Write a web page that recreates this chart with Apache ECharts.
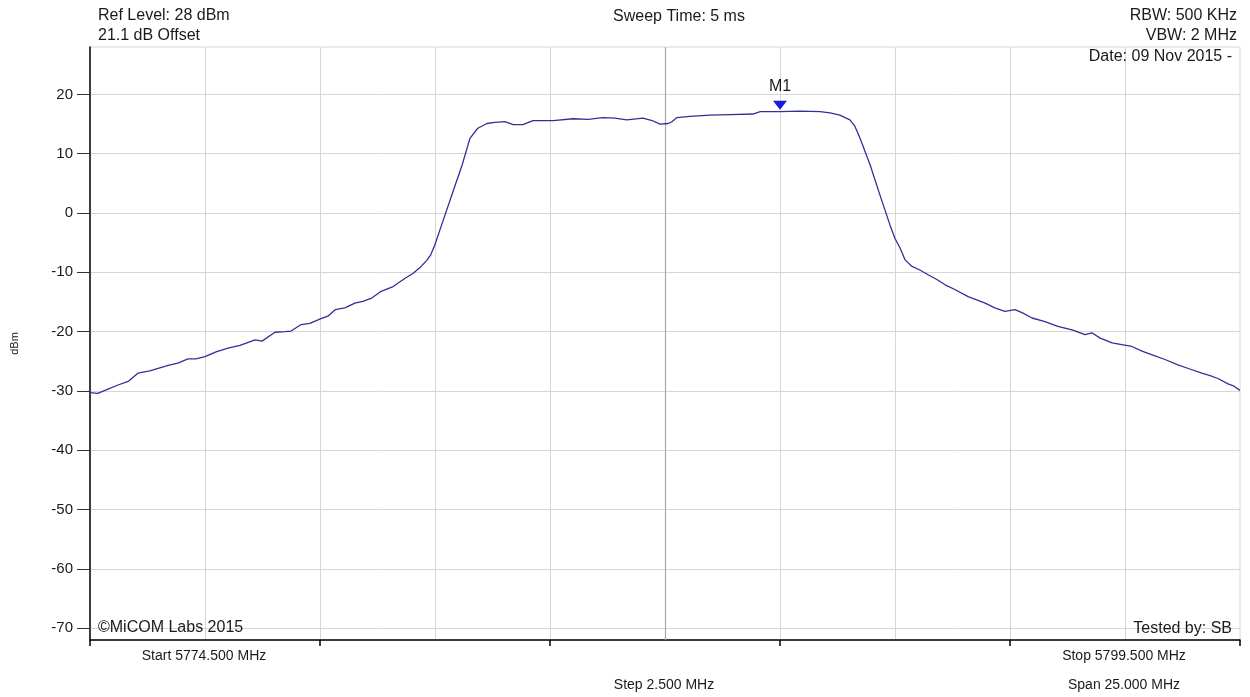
<!DOCTYPE html>
<html><head><meta charset="utf-8">
<script src="https://cdn.jsdelivr.net/npm/echarts@6/dist/echarts.min.js"></script>
<style>html,body{margin:0;padding:0;background:#fff}#c{width:1250px;height:697px}</style>
</head><body><div id="c"></div>
<script>
// Trace: frequency (MHz) and level (dBm)
const FREQ_MHZ = [
 5774.50,5774.67,5774.89,5775.11,5775.33,5775.54,5775.80,5776.20,5776.41,5776.63,
 5776.80,5777.00,5777.24,5777.50,5777.76,5778.09,5778.24,5778.52,5778.74,5778.87,
 5779.09,5779.28,5779.52,5779.67,5779.83,5780.04,5780.26,5780.43,5780.61,5780.83,
 5781.09,5781.35,5781.52,5781.70,5781.83,5781.91,5782.00,5782.17,5782.39,5782.59,
 5782.76,5782.93,5783.13,5783.30,5783.52,5783.70,5783.91,5784.13,5784.57,5785.00,
 5785.33,5785.65,5785.91,5786.17,5786.52,5786.72,5786.89,5787.07,5787.15,5787.26,
 5787.54,5787.98,5788.41,5788.91,5789.07,5789.50,5789.93,5790.37,5790.59,5790.80,
 5791.02,5791.13,5791.24,5791.46,5791.67,5791.89,5792.00,5792.11,5792.22,5792.37,
 5792.54,5792.72,5792.91,5793.09,5793.30,5793.59,5793.96,5794.17,5794.39,5794.61,
 5794.76,5794.98,5795.26,5795.54,5795.85,5796.13,5796.28,5796.46,5796.72,5796.93,
 5797.15,5797.37,5797.59,5797.87,5798.15,5798.41,5798.67,5798.85,5799.02,5799.24,
 5799.37,5799.50
];
const LEVEL_DBM = [
 -30.3,-30.4,-29.7,-29.0,-28.4,-27.0,-26.6,-25.7,-25.3,-24.6,
 -24.6,-24.2,-23.4,-22.8,-22.3,-21.4,-21.6,-20.1,-20.0,-19.9,
 -18.8,-18.6,-17.8,-17.4,-16.3,-16.0,-15.2,-14.9,-14.4,-13.2,
 -12.4,-11.0,-10.2,-9.0,-7.9,-7.0,-5.3,-1.4,3.6,8.1,
 12.6,14.3,15.1,15.3,15.4,14.9,14.9,15.6,15.6,15.9,
 15.8,16.1,16.0,15.7,16.0,15.6,15.0,15.1,15.4,16.1,
 16.3,16.5,16.6,16.7,17.1,17.1,17.2,17.1,16.9,16.5,
 15.7,14.6,12.6,8.1,3.1,-2.0,-4.3,-5.9,-7.9,-9.0,
 -9.6,-10.4,-11.2,-12.1,-12.9,-14.1,-15.2,-16.0,-16.6,-16.3,
 -16.8,-17.7,-18.3,-19.1,-19.7,-20.5,-20.2,-21.1,-21.9,-22.2,
 -22.5,-23.3,-23.9,-24.7,-25.6,-26.3,-27.0,-27.4,-27.9,-28.8,
 -29.2,-29.9
];
const Y_TICKS = [-70,-60,-50,-40,-30,-20,-10,0,10,20];
const X_GRID = [5777.0,5779.5,5782.0,5784.5,5787.0,5789.5,5792.0,5794.5,5797.0];
const X_TICKS = [5774.5,5779.5,5784.5,5789.5,5794.5,5799.5];
const X_CENTER = 5787.0;
const MARKER = {name:'M1', freq:5789.5, level:17.1};
const Y_MIN = -72, Y_MAX = 28, X_MIN = 5774.5, X_MAX = 5799.5;
const HEADER_LEFT = ['Ref Level: 28 dBm','21.1 dB Offset'];
const HEADER_CENTER = 'Sweep Time: 5 ms';
const HEADER_RIGHT = ['RBW: 500 KHz','VBW: 2 MHz','Date: 09 Nov 2015 -'];
const FOOT_LEFT = '\u00A9MiCOM Labs 2015';
const FOOT_RIGHT = 'Tested by: SB';
const X_INFO = ['Start 5774.500 MHz','Step 2.500 MHz','Stop 5799.500 MHz','Span 25.000 MHz'];

const FONT = '"Liberation Sans", Arial, sans-serif';
const TXT = '#1a1a1a';
function txt(text, x, y, align, size){
  return {type:'text', x:x, y:y, silent:true, z:10,
    style:{text:text, fill:TXT, font: size+'px '+FONT, align:align, textAlign:align,
      verticalAlign:'middle', textVerticalAlign:'middle'}};
}

const chart = echarts.init(document.getElementById('c'), null, {renderer:'canvas'});
chart.setOption({
  animation:false,
  backgroundColor:'#fff',
  grid:{left:90, right:10, top:47, bottom:57, show:true, borderColor:'#d6d6d6', borderWidth:1},
  xAxis:[{
    type:'value', min:X_MIN, max:X_MAX, position:'bottom',
    axisLine:{show:true, onZero:false, lineStyle:{color:'#000', width:1.5}},
    axisTick:{show:true, customValues:X_TICKS, length:6, lineStyle:{color:'#000', width:1.5}},
    axisLabel:{show:false}, splitLine:{show:false}
  },{
    type:'value', min:X_MIN, max:X_MAX, position:'top',
    axisLine:{show:false}, axisTick:{show:false, customValues:X_GRID},
    axisLabel:{show:false},
    splitLine:{show:true, lineStyle:{color:'#d6d6d6', width:1}}
  }],
  yAxis:{
    type:'value', min:Y_MIN, max:Y_MAX,
    name:'dBm', nameLocation:'middle', nameGap:70, nameRotate:90,
    nameTextStyle:{fontSize:11, color:TXT, fontFamily:FONT},
    axisLine:{show:true, onZero:false, lineStyle:{color:'#000', width:1.5}},
    axisTick:{show:true, customValues:Y_TICKS, length:13, lineStyle:{color:'#333', width:1}},
    axisLabel:{show:true, customValues:Y_TICKS, margin:17, fontSize:15, color:TXT, fontFamily:FONT},
    splitLine:{show:true, lineStyle:{color:'#d6d6d6', width:1}}
  },
  series:[{
    type:'line', xAxisIndex:0, yAxisIndex:0,
    data: FREQ_MHZ.map((f,i)=>[f, LEVEL_DBM[i]]),
    showSymbol:false, symbol:'none',
    lineStyle:{color:'#30309a', width:1.3},
    z:5,
    markLine:{
      silent:true, symbol:['none','none'], label:{show:false},
      lineStyle:{color:'#a9a9a9', width:1.2, type:'solid'},
      data:[{xAxis:X_CENTER}], z:1
    },
    markPoint:{
      silent:true,
      symbol:'path://M0,0 L14,0 L7,9 Z', symbolSize:[14,9], symbolOffset:[0,-6.5],
      itemStyle:{color:'#1818e8'},
      label:{show:true, position:'top', distance:6, formatter:MARKER.name,
        color:TXT, fontSize:16, fontFamily:FONT},
      data:[{coord:[MARKER.freq, MARKER.level]}]
    }
  }],
  graphic:[
    txt(HEADER_LEFT[0], 98, 16, 'left', 16),
    txt(HEADER_LEFT[1], 98, 36, 'left', 16),
    txt(HEADER_CENTER, 679, 17, 'center', 16),
    txt(HEADER_RIGHT[0], 1237, 16, 'right', 16),
    txt(HEADER_RIGHT[1], 1237, 36, 'right', 16),
    txt(HEADER_RIGHT[2], 1232, 57, 'right', 16),
    txt(FOOT_LEFT, 98, 628, 'left', 16),
    txt(FOOT_RIGHT, 1232, 629, 'right', 16),
    txt(X_INFO[0], 204, 656, 'center', 14),
    txt(X_INFO[1], 664, 685, 'center', 14),
    txt(X_INFO[2], 1124, 656, 'center', 14),
    txt(X_INFO[3], 1124, 685, 'center', 14)
  ]
});
</script></body></html>
